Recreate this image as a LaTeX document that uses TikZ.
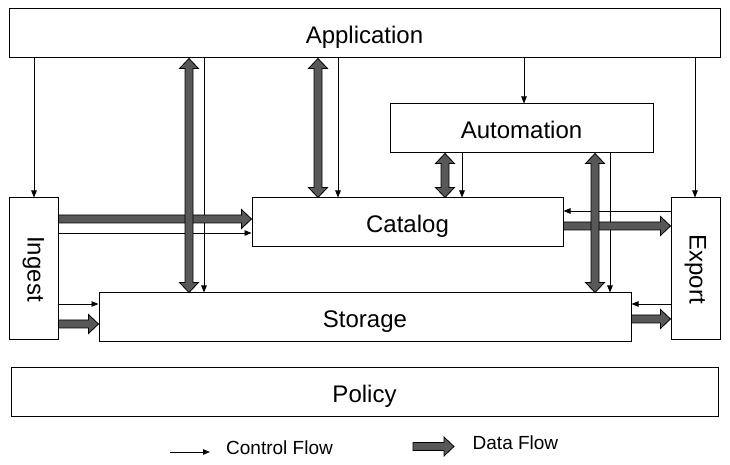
\documentclass[tikz,border=0pt]{standalone}
\usepackage{fontspec}
\setmainfont{Liberation Sans}
\usetikzlibrary{arrows.meta,calc}
\definecolor{dgray}{RGB}{88,88,88}
\tikzset{
  box/.style={draw, line width=1pt, fill=white, inner sep=0pt},
  bigfont/.style={font=\fontsize{24}{28}\selectfont},
  big/.style={bigfont, text height=20pt, text depth=0pt},
  legend/.style={font=\fontsize{19}{22}\selectfont, inner sep=0pt, anchor=west},
  ctrl/.style={line width=0.9pt, -{Triangle[length=7pt,width=5.5pt]}},
  data/.style={draw=black, line width=0.8pt, fill=dgray, line join=miter}
}
% single data arrow from #1 to #2
\newcommand\flowone[2]{%
  \coordinate (fa) at ($(#2)!10pt!(#1)$);
  \filldraw[data] ($(#1)!4pt!90:(#2)$) -- ($(fa)!4pt!90:(#2)$) -- ($(fa)!9.5pt!90:(#2)$) -- (#2)
    -- ($(fa)!9.5pt!-90:(#2)$) -- ($(fa)!4pt!-90:(#2)$) -- ($(#1)!4pt!-90:(#2)$) -- cycle;}
% double data arrow between #1 and #2
\newcommand\flowtwo[2]{%
  \coordinate (fa) at ($(#1)!10pt!(#2)$);
  \coordinate (fb) at ($(#2)!10pt!(#1)$);
  \filldraw[data] (#1) -- ($(fa)!9.5pt!90:(#2)$) -- ($(fa)!4pt!90:(#2)$) -- ($(fb)!4pt!90:(#2)$)
    -- ($(fb)!9.5pt!90:(#2)$) -- (#2) -- ($(fb)!9.5pt!-90:(#2)$) -- ($(fb)!4pt!-90:(#2)$)
    -- ($(fa)!4pt!-90:(#2)$) -- ($(fa)!9.5pt!-90:(#2)$) -- cycle;}
\begin{document}
\begin{tikzpicture}[x=1pt,y=1pt]
\useasboundingbox[fill=white] (0,0) rectangle (730,465);
% boxes
\node[box, big, minimum width=711pt, minimum height=49pt] (app) at (364.5,431.5) {Application};
\node[box, big, minimum width=263pt, minimum height=49pt] (auto) at (521.5,336.5) {Automation};
\node[box, big, minimum width=311pt, minimum height=49pt] (cat) at (407.5,242.5) {Catalog};
\node[box, minimum width=49pt, minimum height=142pt] (ing) at (33.5,196) {};
\node[bigfont, rotate=-90] (ingt) at (ing) {Ingest};
\node[box, minimum width=49pt, minimum height=142pt] (exp) at (695.5,196) {};
\node[bigfont, rotate=-90] (expt) at (exp) {Export};
\node[box, big, minimum width=532pt, minimum height=49pt] (sto) at (365,147.5) {Storage};
\node[box, big, minimum width=707pt, minimum height=48.5pt] (pol) at (364.5,72.75) {Policy};
% control flows
\draw[ctrl] (34,0 |- app.south) -- (34,0 |- ing.north);
\draw[ctrl] (204,0 |- app.south) -- (204,0 |- sto.north);
\draw[ctrl] (338,0 |- app.south) -- (338,0 |- cat.north);
\draw[ctrl] (524,0 |- app.south) -- (524,0 |- auto.north);
\draw[ctrl] (695,0 |- app.south) -- (695,0 |- exp.north);
\draw[ctrl] (462,0 |- auto.south) -- (462,0 |- cat.north);
\draw[ctrl] (610,0 |- auto.south) -- (610,0 |- sto.north);
\draw[ctrl] (ing.east |- 0,232) -- (cat.west |- 0,232);
\draw[ctrl] (exp.west |- 0,254) -- (cat.east |- 0,254);
\draw[ctrl] (ing.east |- 0,161) -- (sto.west |- 0,161);
\draw[ctrl] (exp.west |- 0,161) -- (sto.east |- 0,161);
% horizontal data flows
\coordinate (h1a) at (ing.east |- 0,246); \coordinate (h1b) at (cat.west |- 0,246);
\flowone{h1a}{h1b}
\coordinate (h2a) at (cat.east |- 0,239); \coordinate (h2b) at (exp.west |- 0,239);
\flowone{h2a}{h2b}
\coordinate (h3a) at (ing.east |- 0,141); \coordinate (h3b) at (sto.west |- 0,141);
\flowone{h3a}{h3b}
\coordinate (h4a) at (sto.east |- 0,146); \coordinate (h4b) at (exp.west |- 0,146);
\flowone{h4a}{h4b}
% vertical data flows
\coordinate (v1a) at (189,0 |- app.south); \coordinate (v1b) at (189,0 |- sto.north);
\flowtwo{v1a}{v1b}
\coordinate (v2a) at (318,0 |- app.south); \coordinate (v2b) at (318,0 |- cat.north);
\flowtwo{v2a}{v2b}
\coordinate (v3a) at (445,0 |- auto.south); \coordinate (v3b) at (445,0 |- cat.north);
\flowtwo{v3a}{v3b}
\coordinate (v4a) at (595,0 |- auto.south); \coordinate (v4b) at (595,0 |- sto.north);
\flowtwo{v4a}{v4b}
% legend
\coordinate (lc1) at (170,13); \coordinate (lc2) at (210,13);
\draw[ctrl] (lc1) -- (lc2);
\node[legend] (lct) at (226,17) {Control Flow};
\coordinate (ld1) at (413,18.5); \coordinate (ld2) at (454,18.5);
\flowone{ld1}{ld2}
\node[legend] (ldt) at (472.5,22) {Data Flow};
\end{tikzpicture}
\end{document}
